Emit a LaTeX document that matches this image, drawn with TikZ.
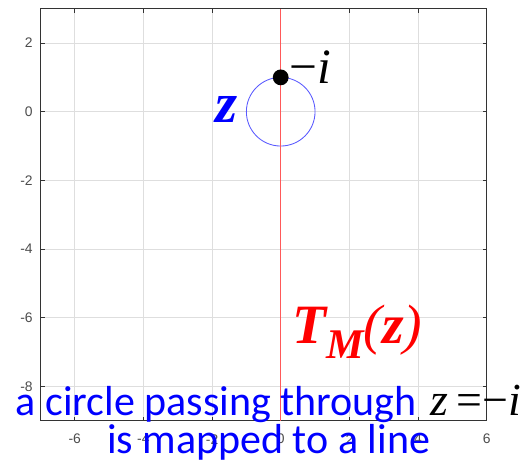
\documentclass[tikz,border=0pt]{standalone}
\usepackage{fontspec}
\setmainfont{Liberation Serif}
\newfontfamily\calib{Carlito}
\newfontfamily\arialf{Liberation Sans}
\begin{document}
\begin{tikzpicture}[x=1cm,y=1cm,
  gridline/.style={draw=black!13, line width=0.5pt},
  axisframe/.style={draw=black!80, line width=0.6pt},
  ticklbl/.style={font=\arialf\fontsize{11.5}{12}\selectfont, text=black!70, inner sep=0pt},
  imagecurve/.style={draw=red!65, line width=0.7pt},
  circcurve/.style={draw=blue!65, line width=0.7pt},
  dotmark/.style={circle, fill=black, minimum size=0.46cm, inner sep=0pt},
  caption/.style={font=\calib\fontsize{34.8}{36}\selectfont, text=blue, inner sep=0pt, anchor=base west}]
\useasboundingbox (-8.177,-10.175) rectangle (7.203,3.254);
\fill[white] (-8.177,-10.175) rectangle (7.203,3.254);
% grid
\foreach \x in {-6,-4,-2,0,2,4} \draw[gridline] (\x,-9) -- (\x,3);
\foreach \y in {-8,-6,-4,-2,0,2} \draw[gridline] (-7,\y) -- (6,\y);
% ticks
\foreach \x in {-6,-4,-2,0,2,4,6} {
  \draw[axisframe] (\x,-9) -- ++(0,0.12);
  \draw[axisframe] (\x,3) -- ++(0,-0.12);
}
\foreach \y in {-8,-6,-4,-2,0,2} {
  \draw[axisframe] (-7,\y) -- ++(0.12,0);
  \draw[axisframe] (6,\y) -- ++(-0.12,0);
}
\draw[axisframe] (-7,-9) rectangle (6,3);
% tick labels
\foreach \y/\t in {2/2,0/0,-2/-2,-4/-4,-6/-6,-8/-8}
  \node[ticklbl, anchor=east] (yl\t) at (-7.22,\y) {\t};
\foreach \x/\t in {-6/-6,-4/-4,-2/-2,0/0,2/2,4/4,6/6}
  \node[ticklbl] (xl\t) at (\x,-9.54) {\t};
% curves
\draw[circcurve] (0,0) circle (1);
\draw[imagecurve] (0,-9) -- (0,3);
\node[dotmark] (dot) at (0,1) {};
% labels
\node[anchor=base west, inner sep=0pt, font=\fontsize{41}{41}\selectfont] (mi) at (0.26,0.83) {−\textit{i}};
\node[anchor=base, inner sep=0pt, text=blue, font=\fontsize{47}{47}\selectfont\bfseries\itshape] (zl) at (-1.573,-0.30) {z};
\node[anchor=base west, inner sep=0pt, text=red, font=\fontsize{46}{46}\selectfont\itshape] (tm) at (0.33,-6.74)
  {\bfseries T\raisebox{-12.4pt}{\fontsize{35}{35}\selectfont\bfseries M}\mdseries(\bfseries z\mdseries)};
\node[caption] (l1) at (-7.72,-8.835) {a circle passing through};
\node[caption] (l2) at (-5.06,-9.97) {is mapped to a line};
\node[anchor=base west, inner sep=0pt, font=\fontsize{38}{38}\selectfont] (zeq) at (4.349,-8.86) {\textit{z}\hspace{0.18em}=−\textit{i}};
\end{tikzpicture}
\end{document}
